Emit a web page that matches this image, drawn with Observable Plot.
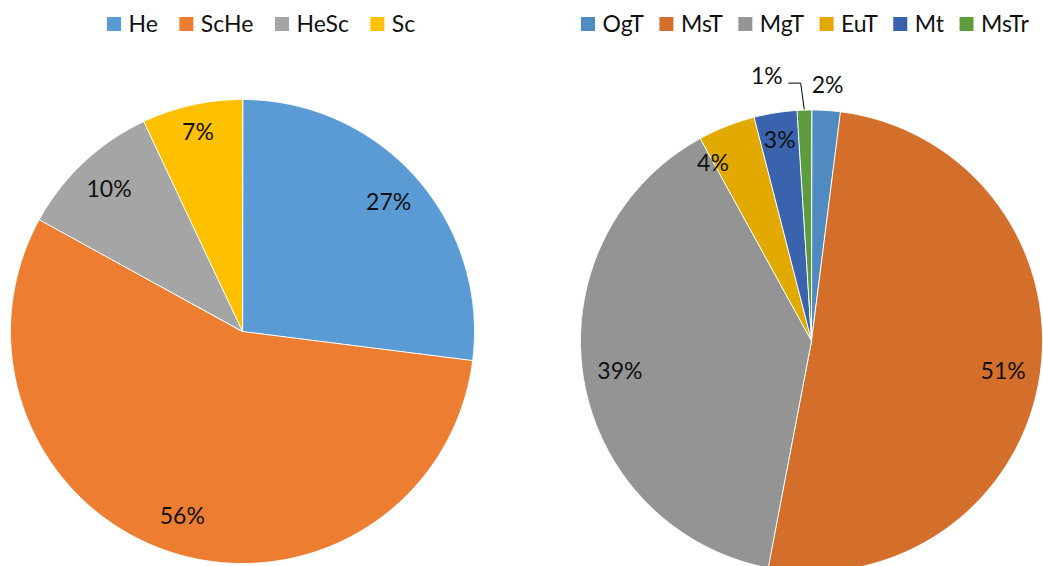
<!DOCTYPE html>
<html>
<head>
<meta charset="utf-8">
<script src="https://cdn.jsdelivr.net/npm/d3@7"></script>
<script src="https://cdn.jsdelivr.net/npm/@observablehq/plot@0.6"></script>
<style>
  html, body { margin: 0; padding: 0; background: #fff; overflow: hidden; }
</style>
</head>
<body>
<div id="chart"></div>
<script>
// Left pie: share of each category
const leftCategories = ["He", "ScHe", "HeSc", "Sc"];
const leftValues = [27, 56, 10, 7];
const leftColors = ["#5B9BD5", "#ED7D31", "#A5A5A5", "#FFC000"];

// Right pie: share of each category
const rightCategories = ["OgT", "MsT", "MgT", "EuT", "Mt", "MsTr"];
const rightValues = [2, 51, 39, 4, 3, 1];
const rightColors = ["#4F8BC1", "#D46E2B", "#949494", "#E2AA00", "#3A63AD", "#5E9B3D"];

const W = 1043, H = 566;
const FONT = "Lato, 'Open Sans', sans-serif";
const FS = 23;

const pies = [
  {cats: leftCategories, vals: leftValues, cx: 242, cy: 331, r: 232, legendX: 107, legendGap: 22},
  {cats: rightCategories, vals: rightValues, cx: 811, cy: 340.5, r: 231, legendX: 581, legendGap: 16}
];

const ctx = document.createElement("canvas").getContext("2d");
ctx.font = `${FS}px ${FONT}`;
const textWidth = (s) => ctx.measureText(s).width;

const slicePts = [], labels = [], leaders = [], swatches = [], legendText = [];
const polar = (p, a, rr) => [p.cx + rr * Math.sin(a), p.cy - rr * Math.cos(a)];

for (const p of pies) {
  const data = p.cats.map((c, i) => ({key: c, value: p.vals[i]}));
  const total = d3.sum(data, (d) => d.value);
  const arcs = d3.pie().sort(null).value((d) => d.value)(data);

  const inner = [], outer = [];
  for (const a of arcs) {
    const key = a.data.key;
    // wedge outline: centre, then the arc sampled finely
    slicePts.push({key, x: p.cx, y: p.cy});
    const n = Math.max(2, Math.ceil((a.endAngle - a.startAngle) / 0.004));
    for (let k = 0; k <= n; ++k) {
      const t = a.startAngle + (a.endAngle - a.startAngle) * k / n;
      const [x, y] = polar(p, t, p.r);
      slicePts.push({key, x, y});
    }
    const share = a.data.value / total;
    const text = Math.round(share * 100) + "%";
    const mid = (a.startAngle + a.endAngle) / 2;
    const w = textWidth(text);
    if (share < 0.025) {
      const [x, y] = polar(p, mid, p.r + 25);
      outer.push({text, x, y, w, mid});
    } else {
      const rl = p.r * (a.data.value >= 10 ? 0.84 : 0.88);
      const [x, y] = polar(p, mid, rl);
      inner.push({text, x, y, w, mid, rl, small: a.data.value < 10});
    }
  }

  // keep neighbouring small inside labels apart, sliding the earlier one back along its ring
  const small = inner.filter((d) => d.small).sort((a, b) => a.mid - b.mid);
  for (let i = small.length - 2; i >= 0; --i) {
    const a = small[i], b = small[i + 1];
    const minGap = 35;
    if (a.x + a.w / 2 + minGap > b.x - b.w / 2 && Math.abs(a.y - b.y) < FS * 1.5) {
      a.x = b.x - b.w / 2 - minGap - a.w / 2;
      const dx = a.x - p.cx;
      a.y = p.cy - Math.sqrt(Math.max(0, a.rl * a.rl - dx * dx));
    }
  }

  // outside labels: if one collides with an earlier one, move it left and add an elbow leader
  const placed = [];
  for (const o of outer) {
    const hit = placed.find((q) => Math.abs(q.x - o.x) < (q.w + o.w) / 2 + 4 && Math.abs(q.y - o.y) < FS);
    if (hit) {
      o.x = hit.x - hit.w / 2 - 29 - o.w / 2;
      o.y = o.y - 9;
      const [ax, ay] = polar(p, o.mid, p.r + 1);
      const x0 = o.x + o.w / 2 + 6, y0 = o.y + 7;
      leaders.push({g: o.text, x: x0, y: y0}, {g: o.text, x: x0 + 12, y: y0}, {g: o.text, x: ax, y: ay});
    }
    placed.push(o);
  }
  for (const d of [...inner, ...outer]) labels.push({text: d.text, x: d.x, y: d.y});

  // legend row
  let lx = p.legendX;
  for (const c of p.cats) {
    swatches.push({key: c, x1: lx, x2: lx + 14, y1: 17, y2: 31});
    legendText.push({text: c, x: lx + 21, y: 24});
    lx += 21 + textWidth(c) + p.legendGap;
  }
}

const chart = Plot.plot({
  width: W,
  height: H,
  margin: 0,
  x: {domain: [0, W], range: [0, W], axis: null},
  y: {domain: [0, H], range: [0, H], axis: null},
  color: {
    domain: [...leftCategories, ...rightCategories],
    range: [...leftColors, ...rightColors]
  },
  style: {fontFamily: FONT, background: "#fff"},
  marks: [
    Plot.line(slicePts, {
      x: "x", y: "y", z: "key", fill: "key",
      stroke: "#fff", strokeWidth: 1, strokeLinejoin: "round",
      curve: "linear-closed", clip: true
    }),
    Plot.line(leaders, {x: "x", y: "y", z: "g", stroke: "#000", strokeWidth: 1}),
    Plot.text(labels, {
      x: "x", y: "y", text: "text",
      fontSize: FS, fill: "#111", textAnchor: "middle", lineAnchor: "middle"
    }),
    Plot.rect(swatches, {x1: "x1", x2: "x2", y1: "y1", y2: "y2", fill: "key"}),
    Plot.text(legendText, {
      x: "x", y: "y", text: "text",
      fontSize: FS, fill: "#111", textAnchor: "start", lineAnchor: "middle"
    })
  ]
});

document.getElementById("chart").append(chart);
</script>
</body>
</html>
